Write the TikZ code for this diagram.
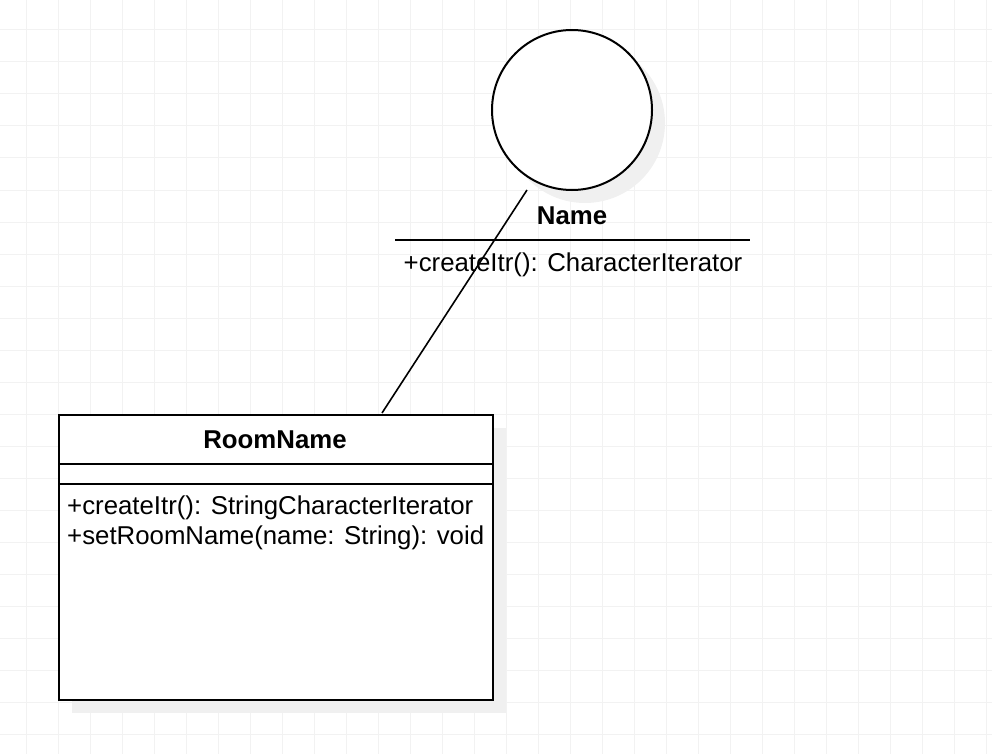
\documentclass[tikz,border=0pt]{standalone}
\usepackage{fontspec}
\setmainfont{Liberation Sans}
\usetikzlibrary{positioning,calc}
\definecolor{gridgray}{HTML}{F2F2F2}
\definecolor{shadowgray}{HTML}{F0F0F0}
\newcommand{\umlsize}{\fontsize{25.8}{30}\selectfont}

\begin{document}
\begin{tikzpicture}[x=1pt,y=-1pt,
    umltext/.style={font=\umlsize, inner sep=0pt},
    umlline/.style={line width=2pt}]
    \useasboundingbox (0,0) rectangle (992,754);

    % Background grid
    \foreach \gx in {26,58,...,986}
        \draw[gridgray, line width=1pt] (\gx,0) -- (\gx,754);
    \foreach \gy in {30,62,...,750}
        \draw[gridgray, line width=1pt] (0,\gy) -- (992,\gy);

    % Interface Name (lollipop)
    \fill[shadowgray] (585,123) circle (80);
    \node[draw, umlline, circle, fill=white, minimum size=160pt, inner sep=0pt] (name) at (572,110) {};
    \node[umltext, font=\umlsize\bfseries, anchor=base] (nameTitle) at (572,224) {Name};
    \draw[umlline] (395,240) -- (750,240);
    \node[umltext, anchor=base west] (nameOp) at (403.5,271) {+createItr(): CharacterIterator};

    % Class RoomName
    \fill[shadowgray] (72,428) rectangle (506,713);
    \node[draw, umlline, fill=white, anchor=north west, minimum width=434pt, minimum height=285pt, inner sep=0pt] (room) at (58,414) {};
    \draw[umlline] (58,464) -- (492,464);
    \draw[umlline] (58,484) -- (492,484);
    \node[umltext, font=\umlsize\bfseries, anchor=base] (roomTitle) at (275,448) {RoomName};
    \node[umltext, anchor=base west] (roomOpA) at (67,514) {+createItr(): StringCharacterIterator};
    \node[umltext, anchor=base west] (roomOpB) at (67,544) {+setRoomName(name: String): void};

    % Realization line
    \coordinate (nameEnd) at (527,190);
    \coordinate (roomEnd) at (382,413);
    \draw[line width=1.6pt] (nameEnd) -- (roomEnd);
\end{tikzpicture}
\end{document}
